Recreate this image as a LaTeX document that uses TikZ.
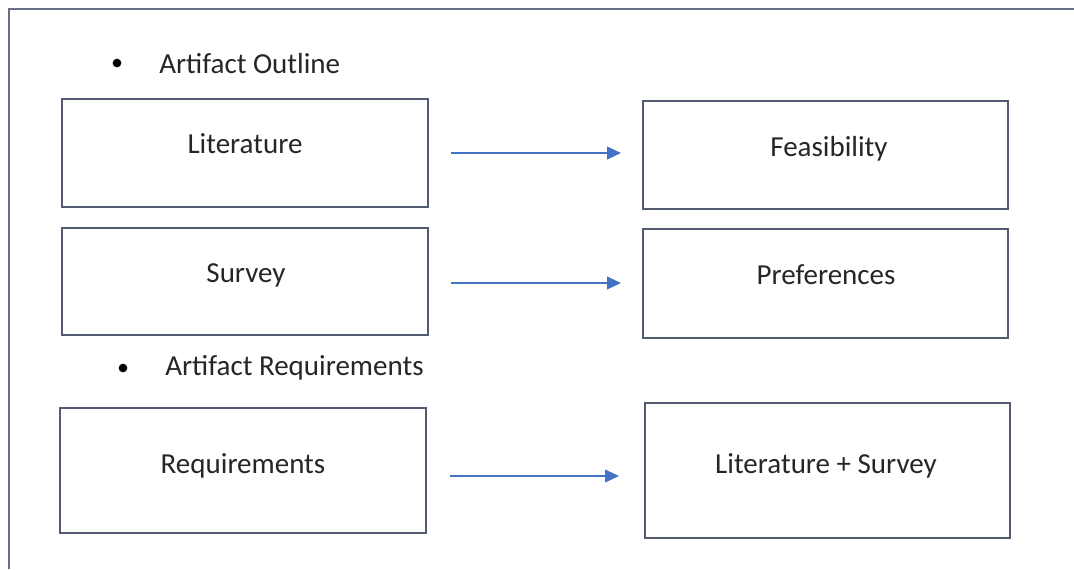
\documentclass[tikz,border=0pt]{standalone}
\usepackage{fontspec}
\setmainfont{Carlito}
\usetikzlibrary{arrows.meta}
\definecolor{boxline}{RGB}{84,90,112}
\definecolor{frameline}{RGB}{105,110,135}
\definecolor{arrowblue}{RGB}{68,114,196}
\definecolor{ink}{RGB}{38,38,38}
\begin{document}
\begin{tikzpicture}[x=0.75pt,y=-0.75pt,
  box/.style 2 args={draw=boxline, line width=1.4pt, minimum width=#1*0.75pt,
    minimum height=#2*0.75pt, inner sep=0pt, outer sep=0pt},
  lbl/.style={anchor=base, inner sep=0pt, text=ink,
    font=\fontsize{21.75pt}{26pt}\selectfont},
  head/.style={anchor=base west, inner sep=0pt, text=ink,
    font=\fontsize{21.75pt}{26pt}\selectfont},
  dot/.style={circle, fill=black, inner sep=0pt, minimum size=6.5pt},
  arr/.style={draw=arrowblue, line width=1.6pt,
    -{Triangle[length=10.5pt, width=9.5pt]}}]
\useasboundingbox (0,0) rectangle (1074,569);
\fill[white] (0,0) rectangle (1074,569);

% outer frame, open towards the right and bottom edges
\draw[frameline, line width=1.6pt] (9,569) -- (9,9) -- (1074,9);

% section headings
\node[dot] (b1) at (117,63) {};
\node[head] (h1) at (159,73) {Artifact Outline};
\node[dot] (b2) at (123,368) {};
\node[head] (h2) at (165,375) {Artifact Requirements};

% boxes
\node[box={366}{108}] (lit)  at (245,153)   {};
\node[box={365}{108}] (feas) at (825.5,155) {};
\node[box={366}{107}] (surv) at (245,281.5) {};
\node[box={365}{109}] (pref) at (825.5,283.5) {};
\node[box={366}{125}] (req)  at (243,470.5) {};
\node[box={365}{135}] (ls)   at (827.5,470.5) {};

% box captions
\node[lbl] (tlit)  at (245,153)   {Literature};
\node[lbl] (tfeas) at (829,156)   {Feasibility};
\node[lbl] (tsurv) at (246,282)   {Survey};
\node[lbl] (tpref) at (826,284)   {Preferences};
\node[lbl] (treq)  at (243,473)   {Requirements};
\node[lbl] (tls)   at (826,473)   {Literature + Survey};

% arrows between the columns
\coordinate (a1s) at (451,153); \coordinate (a1e) at (621,153);
\coordinate (a2s) at (451,283); \coordinate (a2e) at (621,283);
\coordinate (a3s) at (450,476); \coordinate (a3e) at (619,476);
\draw[arr] (a1s) -- (a1e);
\draw[arr] (a2s) -- (a2e);
\draw[arr] (a3s) -- (a3e);
\end{tikzpicture}
\end{document}
